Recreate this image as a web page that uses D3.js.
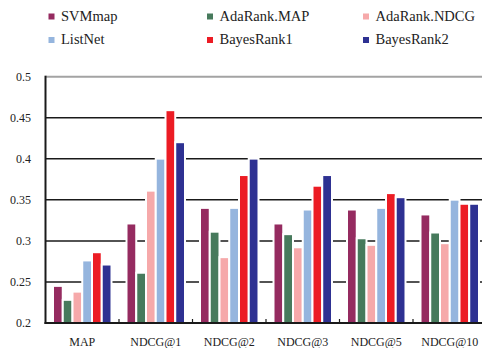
<!DOCTYPE html>
<html>
<head>
<meta charset="utf-8">
<script src="https://cdn.jsdelivr.net/npm/d3@7/dist/d3.min.js"></script>
<style>
  html, body { margin: 0; padding: 0; background: #fff; overflow: hidden; }
  svg { display: block; }
  text { font-family: "Liberation Serif", "Times New Roman", serif; fill: #222; }
</style>
</head>
<body>
<svg id="chart" width="482" height="348"></svg>
<script>
// Ranking metrics per method
const categories = ["MAP", "NDCG@1", "NDCG@2", "NDCG@3", "NDCG@5", "NDCG@10"];
const methods = ["SVMmap", "AdaRank.MAP", "AdaRank.NDCG", "ListNet", "BayesRank1", "BayesRank2"];
const colors = ["#952b60", "#477a5c", "#f6a9aa", "#95b5de", "#ec1c24", "#2e3192"];

const svmmap      = [0.244, 0.320, 0.339, 0.320, 0.337, 0.331];
const adaRankMap  = [0.227, 0.260, 0.310, 0.307, 0.302, 0.309];
const adaRankNdcg = [0.237, 0.360, 0.279, 0.291, 0.294, 0.296];
const listNet     = [0.275, 0.399, 0.339, 0.337, 0.339, 0.349];
const bayesRank1  = [0.285, 0.458, 0.379, 0.366, 0.357, 0.344];
const bayesRank2  = [0.270, 0.419, 0.399, 0.379, 0.352, 0.344];
const series = [svmmap, adaRankMap, adaRankNdcg, listNet, bayesRank1, bayesRank2];

const yTicks = [0.2, 0.25, 0.3, 0.35, 0.4, 0.45, 0.5];

const svg = d3.select("#chart");
const plotLeft = 45.5, plotRight = 486.5, plotTop = 76.7, plotBottom = 323;

const x0 = d3.scaleBand().domain(categories).range([plotLeft, plotRight]).padding(0);
const x1 = d3.scaleBand().domain(methods).range([0, x0.bandwidth()]).paddingInner(0).paddingOuter(0.77);
const y = d3.scaleLinear().domain([0.2, 0.5]).range([plotBottom, plotTop]);

// horizontal grid lines
svg.append("g").selectAll("line")
  .data(yTicks.filter(t => t > 0.2))
  .join("line")
  .attr("x1", plotLeft).attr("x2", 482)
  .attr("y1", d => y(d)).attr("y2", d => y(d))
  .attr("stroke", d => d === 0.5 ? "#a3a3a3" : "#1a1a1a")
  .attr("stroke-width", d => d === 0.5 ? 2 : 1.5);

// y tick labels
svg.append("g").selectAll("text")
  .data(yTicks)
  .join("text")
  .attr("x", 31).attr("y", d => y(d) + 4)
  .attr("text-anchor", "end")
  .attr("font-size", 12)
  .text(d => String(+d.toFixed(2)));

// bars
const groups = svg.append("g").selectAll("g")
  .data(categories)
  .join("g")
  .attr("transform", c => `translate(${x0(c)},0)`);

groups.selectAll("rect")
  .data((c, i) => methods.map((m, j) => ({ m, j, v: series[j][i] })))
  .join("rect")
  .attr("x", d => x1(d.m))
  .attr("width", x1.bandwidth())
  .attr("y", d => y(d.v) - 1)
  .attr("height", d => plotBottom - y(d.v) + 1)
  .attr("fill", d => colors[d.j])
  .attr("stroke", "#fff")
  .attr("stroke-width", 2);

// axes lines
svg.append("line")
  .attr("x1", plotLeft).attr("x2", plotLeft)
  .attr("y1", plotTop - 1).attr("y2", plotBottom + 1)
  .attr("stroke", "#1a1a1a").attr("stroke-width", 2);
svg.append("line")
  .attr("x1", plotLeft - 1).attr("x2", 482)
  .attr("y1", plotBottom).attr("y2", plotBottom)
  .attr("stroke", "#1a1a1a").attr("stroke-width", 2);

// group separators on the baseline
svg.append("g").selectAll("line")
  .data(categories.slice(1))
  .join("line")
  .attr("x1", c => x0(c)).attr("x2", c => x0(c))
  .attr("y1", plotBottom - 4).attr("y2", plotBottom)
  .attr("stroke", "#1a1a1a").attr("stroke-width", 1.2);

// category labels
svg.append("g").selectAll("text")
  .data(categories)
  .join("text")
  .attr("x", c => x0(c) + x0.bandwidth() / 2)
  .attr("y", 346)
  .attr("text-anchor", "middle")
  .attr("font-size", 12)
  .text(c => c);

// legend
const legendX = [48.5, 207, 363];
const legendY = [16.5, 40];
const legend = svg.append("g").selectAll("g")
  .data(methods)
  .join("g")
  .attr("transform", (m, i) => `translate(${legendX[i % 3]},${legendY[Math.floor(i / 3)]})`);
legend.append("rect")
  .attr("x", 0).attr("y", -3).attr("width", 6).attr("height", 6)
  .attr("fill", (m, i) => colors[i]);
legend.append("text")
  .attr("x", 12.5).attr("y", 4)
  .attr("font-size", 14.5)
  .text(m => m);
</script>
</body>
</html>
